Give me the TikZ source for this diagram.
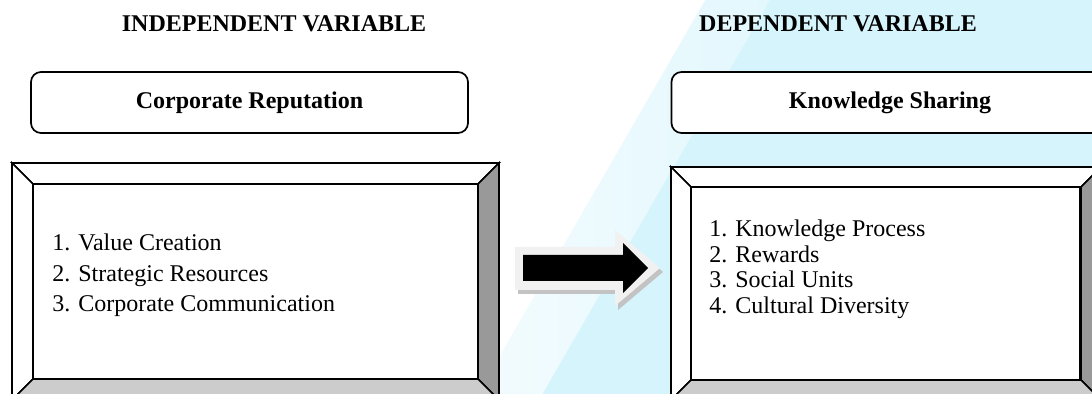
\documentclass[tikz,border=0pt]{standalone}
\usepackage{fontspec}
\setmainfont{Liberation Serif}
\definecolor{wmcyan}{RGB}{214,244,252}
\definecolor{bevelR}{RGB}{153,153,153}
\definecolor{bevelB}{RGB}{204,204,204}
\definecolor{arrframe}{RGB}{241,241,241}
\definecolor{arrshadow}{RGB}{195,195,195}
\newcommand\bevelbox[5]{% ox1 oy1 ox2 oy2 bevel
  \pgfmathsetmacro\ixa{#1+#5}\pgfmathsetmacro\iya{#2+#5}%
  \pgfmathsetmacro\ixb{#3-#5}\pgfmathsetmacro\iyb{#4-#5}%
  \filldraw[fill=white,edge] (#1,#2) -- (#3,#2) -- (\ixb,\iya) -- (\ixa,\iya) -- cycle;
  \filldraw[fill=white,edge] (#1,#2) -- (\ixa,\iya) -- (\ixa,\iyb) -- (#1,#4) -- cycle;
  \filldraw[fill=bevelR,edge] (#3,#2) -- (#3,#4) -- (\ixb,\iyb) -- (\ixb,\iya) -- cycle;
  \filldraw[fill=bevelB,edge] (#1,#4) -- (\ixa,\iyb) -- (\ixb,\iyb) -- (#3,#4) -- cycle;
}
\begin{document}
\begin{tikzpicture}[x=0.5pt,y=-0.5pt,line join=miter,
  edge/.style={draw=black,line width=0.85pt},
  title/.style={font=\bfseries\fontsize{12}{14}\selectfont,anchor=base,inner sep=0pt},
  headbox/.style={edge,fill=white,rounded corners=5pt,minimum width=218.5pt,minimum height=30.5pt,
    font=\bfseries\fontsize{12}{14}\selectfont,inner sep=0pt},
  innerbox/.style={edge,fill=white,inner sep=0pt},
  item/.style={font=\fontsize{12}{14}\selectfont,anchor=base west,inner sep=0pt}]
\useasboundingbox (0,0) rectangle (1092,394);
\clip (0,0) rectangle (1092,394);
% watermark
\begin{scope}[rotate around={-30:(655,197)}]
  \fill[wmcyan] (655,-500) rectangle (1500,900);
  \shade[left color=white,right color=wmcyan] (600,-500) rectangle (656,900);
\end{scope}
% titles
\node[title] (indep) at (274,32) {INDEPENDENT VARIABLE};
\node[title] (dep) at (838,32) {DEPENDENT VARIABLE};
% header boxes
\node[headbox] (cr) at (249.5,102.5) {Corporate Reputation};
\node[headbox] (ks) at (890,102.5) {Knowledge Sharing};
% bevel boxes
\bevelbox{12}{163}{499}{400}{21}
\node[innerbox,minimum width=222.5pt,minimum height=97.5pt] (lbox) at (255.5,281.5) {};
\bevelbox{671}{167}{1101}{400}{20}
\node[innerbox,minimum width=194.5pt,minimum height=96.5pt] (rbox) at (885.5,283.5) {};
% lists
\node[item] (l1) at (52,251) {1. Value Creation};
\node[item] (l2) at (52,281.5) {2. Strategic Resources};
\node[item] (l3) at (52,312) {3. Corporate Communication};
\node[item] (r1) at (709,237) {1. Knowledge Process};
\node[item] (r2) at (709,262.5) {2. Rewards};
\node[item] (r3) at (709,288) {3. Social Units};
\node[item] (r4) at (709,313.5) {4. Cultural Diversity};
% block arrow
\fill[arrshadow] (518,251) -- (618,251) -- (618,234) -- (663,272) -- (618,310) -- (618,294) -- (518,294) -- cycle;
\fill[arrframe] (515,247) -- (615,247) -- (615,230) -- (660,268) -- (615,306) -- (615,290) -- (515,290) -- cycle;
\fill[black] (523,255) -- (623,255) -- (623,243) -- (648,268) -- (623,293) -- (623,281) -- (523,281) -- cycle;
\end{tikzpicture}
\end{document}
